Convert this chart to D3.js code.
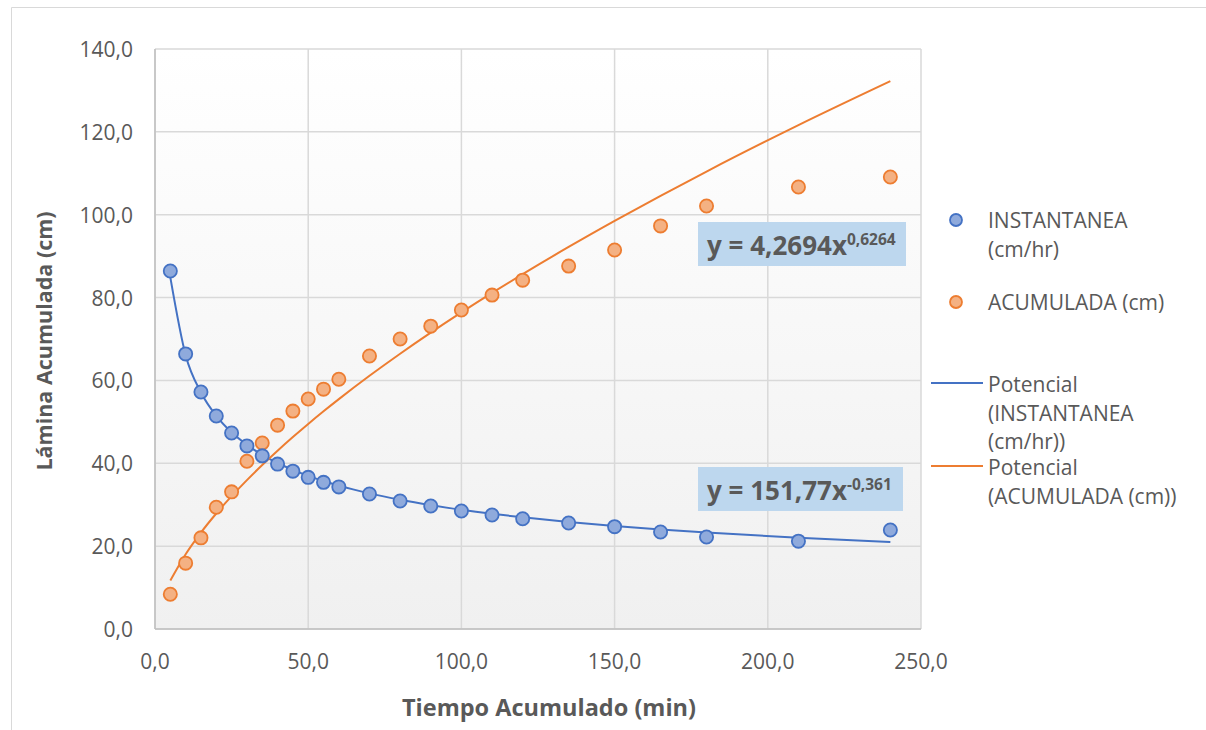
<!DOCTYPE html>
<html>
<head>
<meta charset="utf-8">
<script src="https://cdn.jsdelivr.net/npm/d3@7"></script>
<style>
  body { margin: 0; background: #fff; }
  svg { display: block; font-family: "Open Sans", "Noto Sans", sans-serif; }
</style>
</head>
<body>
<div id="chart"></div>
<script>
// tiempo acumulado (min)
const tiempo = [5, 10, 15, 20, 25, 30, 35, 40, 45, 50, 55, 60, 70, 80, 90, 100, 110, 120, 135, 150, 165, 180, 210, 240];
// INSTANTANEA (cm/hr)
const instantanea = [86.4, 66.4, 57.2, 51.4, 47.3, 44.2, 41.8, 39.8, 38.1, 36.6, 35.4, 34.3, 32.6, 30.9, 29.7, 28.5, 27.5, 26.6, 25.6, 24.7, 23.4, 22.2, 21.2, 23.9];
// ACUMULADA (cm)
const acumulada = [8.4, 15.9, 22.0, 29.4, 33.1, 40.5, 44.9, 49.2, 52.6, 55.5, 57.9, 60.3, 65.9, 70.0, 73.1, 77.0, 80.6, 84.2, 87.6, 91.5, 97.3, 102.1, 106.7, 109.1];
// power trendline coefficients [a, b] for y = a * x^b
const trendInst = [151.77, -0.361];
const trendAcum = [4.2694, 0.6264];
const xTicks = [0, 50, 100, 150, 200, 250];
const yTicks = [0, 20, 40, 60, 80, 100, 120, 140];

const width = 1206, height = 730;
const margin = { left: 155, right: 285, top: 49, bottom: 101 };
const blue = "#4472c4", blueFill = "#8faadc";
const orange = "#ed7d31", orangeFill = "#f4b183";
const textColor = "#595959";
const fmt = d => d3.format(".1f")(d).replace(".", ",");

const x = d3.scaleLinear().domain([0, 250]).range([margin.left, width - margin.right]);
const y = d3.scaleLinear().domain([0, 140]).range([height - margin.bottom, margin.top]);

const svg = d3.select("#chart").append("svg")
    .attr("width", width)
    .attr("height", height);

// chart border (top and left edges are visible)
svg.append("path")
    .attr("d", "M11.5,730 V7.5 H1206")
    .attr("fill", "none")
    .attr("stroke", "#d9d9d9");

const grad = svg.append("defs").append("linearGradient")
    .attr("id", "bg").attr("x1", 0).attr("y1", 0).attr("x2", 0).attr("y2", 1);
grad.append("stop").attr("offset", "0%").attr("stop-color", "#ffffff");
grad.append("stop").attr("offset", "100%").attr("stop-color", "#f0f0f0");

svg.append("rect")
    .attr("x", x(0)).attr("y", y(140))
    .attr("width", x(250) - x(0)).attr("height", y(0) - y(140))
    .attr("fill", "url(#bg)");

// gridlines
svg.append("g")
    .selectAll("line")
    .data(yTicks)
    .join("line")
    .attr("x1", x(0)).attr("x2", x(250))
    .attr("y1", d => y(d)).attr("y2", d => y(d))
    .attr("stroke", "#d9d9d9").attr("stroke-width", 1.5);

svg.append("g")
    .selectAll("line")
    .data(xTicks)
    .join("line")
    .attr("x1", d => x(d)).attr("x2", d => x(d))
    .attr("y1", y(0)).attr("y2", y(140))
    .attr("stroke", "#d9d9d9").attr("stroke-width", 1.5);

// axis lines
svg.append("line")
    .attr("x1", x(0)).attr("x2", x(250)).attr("y1", y(0)).attr("y2", y(0))
    .attr("stroke", "#bfbfbf").attr("stroke-width", 1.5);
svg.append("line")
    .attr("x1", x(0)).attr("x2", x(0)).attr("y1", y(0)).attr("y2", y(140))
    .attr("stroke", "#bfbfbf").attr("stroke-width", 1.5);

// tick labels
svg.append("g")
    .selectAll("text")
    .data(yTicks)
    .join("text")
    .attr("x", x(0) - 22)
    .attr("y", d => y(d) + 8)
    .attr("text-anchor", "end")
    .attr("font-size", "21px")
    .attr("fill", textColor)
    .text(fmt);

svg.append("g")
    .selectAll("text")
    .data(xTicks)
    .join("text")
    .attr("x", d => x(d))
    .attr("y", y(0) + 40)
    .attr("text-anchor", "middle")
    .attr("font-size", "21px")
    .attr("fill", textColor)
    .text(fmt);

// axis titles
svg.append("text")
    .attr("x", 549).attr("y", 716)
    .attr("text-anchor", "middle")
    .attr("font-size", "23.5px")
    .attr("font-weight", "bold")
    .attr("fill", textColor)
    .text("Tiempo Acumulado (min)");

svg.append("text")
    .attr("transform", `translate(52, 341) rotate(-90)`)
    .attr("text-anchor", "middle")
    .attr("font-size", "21.5px")
    .attr("font-weight", "bold")
    .attr("fill", textColor)
    .text("Lámina Acumulada (cm)");

// trendlines
const line = d3.line().x(d => x(d[0])).y(d => y(d[1])).curve(d3.curveMonotoneX);
const trendPoints = c => tiempo.map(t => [t, c[0] * Math.pow(t, c[1])]);

svg.append("path")
    .attr("d", line(trendPoints(trendInst)))
    .attr("fill", "none").attr("stroke", blue).attr("stroke-width", 2);
svg.append("path")
    .attr("d", line(trendPoints(trendAcum)))
    .attr("fill", "none").attr("stroke", orange).attr("stroke-width", 2);

// markers
svg.append("g")
    .selectAll("circle")
    .data(tiempo.map((t, i) => [t, acumulada[i]]))
    .join("circle")
    .attr("cx", d => x(d[0])).attr("cy", d => y(d[1]))
    .attr("r", 6.6)
    .attr("fill", orangeFill).attr("stroke", orange).attr("stroke-width", 1.8);

svg.append("g")
    .selectAll("circle")
    .data(tiempo.map((t, i) => [t, instantanea[i]]))
    .join("circle")
    .attr("cx", d => x(d[0])).attr("cy", d => y(d[1]))
    .attr("r", 6.6)
    .attr("fill", blueFill).attr("stroke", blue).attr("stroke-width", 1.8);

// equation labels
function equation(x0, y0, w, coef, exp) {
    const g = svg.append("g");
    g.append("rect")
        .attr("x", x0).attr("y", y0).attr("width", w).attr("height", 44)
        .attr("fill", "#bdd7ee");
    const t = g.append("text")
        .attr("x", x0 + 9).attr("y", y0 + 33)
        .attr("font-size", "26px")
        .attr("font-weight", "bold")
        .attr("fill", textColor);
    t.append("tspan").text(`y = ${coef}x`);
    t.append("tspan").attr("dy", -10).attr("font-size", "15.5px").text(exp);
}
equation(698, 222, 208, "4,2694", "0,6264");
equation(698, 467, 205, "151,77", "-0,361");

// legend
const legend = svg.append("g").attr("font-size", "21px").attr("fill", textColor);
const legendText = (lines, y0) => {
    const t = legend.append("text").attr("x", 988).attr("y", y0);
    lines.forEach((l, i) => t.append("tspan").attr("x", 988).attr("dy", i ? 28.5 : 0).text(l));
};
legend.append("circle").attr("cx", 956).attr("cy", 220).attr("r", 6)
    .attr("fill", blueFill).attr("stroke", blue).attr("stroke-width", 1.8);
legendText(["INSTANTANEA", "(cm/hr)"], 228);
legend.append("circle").attr("cx", 956).attr("cy", 302).attr("r", 6)
    .attr("fill", orangeFill).attr("stroke", orange).attr("stroke-width", 1.8);
legendText(["ACUMULADA (cm)"], 310);
legend.append("line").attr("x1", 931).attr("x2", 983).attr("y1", 383).attr("y2", 383)
    .attr("stroke", blue).attr("stroke-width", 2);
legendText(["Potencial", "(INSTANTANEA", "(cm/hr))"], 392);
legend.append("line").attr("x1", 931).attr("x2", 983).attr("y1", 466).attr("y2", 466)
    .attr("stroke", orange).attr("stroke-width", 2);
legendText(["Potencial", "(ACUMULADA (cm))"], 475);
</script>
</body>
</html>
